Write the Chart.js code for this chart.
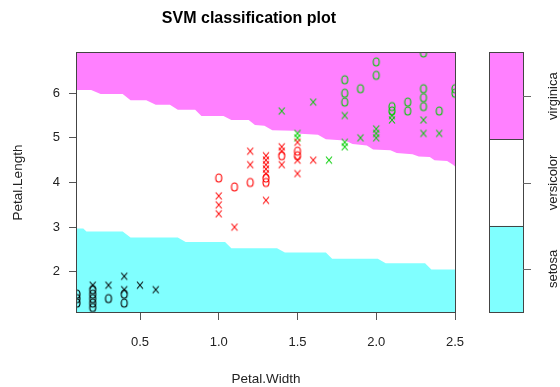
<!DOCTYPE html>
<html>
<head>
<meta charset="utf-8">
<script src="https://cdn.jsdelivr.net/npm/chart.js@4"></script>
<style>
html,body{margin:0;padding:0;background:#fff;}
#c{display:block;}
</style>
</head>
<body>
<canvas id="c" width="560" height="387"></canvas>
<script>
// ---- data ----
const classNames = ['setosa', 'versicolor', 'virginica'];
const classColors = ['#80FFFF', '#FFFFFF', '#FF80FF'];
const pointColors = ['#000000', '#FF0000', '#00CD00'];
const xTicks = [0.5, 1.0, 1.5, 2.0, 2.5];
const yTicks = [2, 3, 4, 5, 6];

const setosaWidth  = [0.1,0.1,0.1, 0.2,0.2,0.2,0.2,0.2,0.2, 0.3,0.3, 0.4,0.4,0.4,0.4, 0.5, 0.6];
const setosaLength = [1.5,1.4,1.3, 1.7,1.6,1.5,1.4,1.3,1.2, 1.7,1.4, 1.9,1.6,1.5,1.3, 1.7, 1.6];
const setosaSV     = [0,0,0, 1,0,0,0,0,0, 1,0, 1,1,0,0, 1,1];

const versicolorWidth  = [1.0,1.0,1.0,1.0, 1.1,1.1, 1.2,1.2,1.2, 1.3,1.3,1.3,1.3,1.3,1.3,1.3,1.3, 1.4,1.4,1.4,1.4, 1.5,1.5,1.5,1.5,1.5, 1.6];
const versicolorLength = [4.1,3.7,3.5,3.3, 3.9,3.0, 4.7,4.4,4.0, 4.6,4.5,4.4,4.3,4.2,4.1,4.0,3.6, 4.8,4.7,4.6,4.4, 4.9,4.7,4.6,4.5,4.2, 4.5];
const versicolorSV     = [0,1,1,1, 0,1, 1,1,0, 1,1,1,1,1,0,0,1, 1,1,0,1, 1,0,0,1,1, 1];

const virginicaWidth  = [1.4, 1.5,1.5, 1.6, 1.7, 1.8,1.8,1.8,1.8,1.8,1.8, 1.9,1.9, 2.0,2.0,2.0,2.0,2.0, 2.1,2.1,2.1,2.1, 2.2,2.2, 2.3,2.3,2.3,2.3,2.3,2.3, 2.4,2.4, 2.5,2.5];
const virginicaLength = [5.6, 5.1,5.0, 5.8, 4.5, 6.3,6.0,5.8,5.5,4.9,4.8, 6.1,5.0, 6.7,6.4,5.2,5.1,5.0, 5.7,5.6,5.5,5.4, 5.8,5.6, 6.9,6.1,5.9,5.7,5.4,5.1, 5.6,5.1, 6.1,6.0];
const virginicaSV     = [1, 1,1, 1, 1, 0,0,0,1,1,1, 0,1, 0,0,1,1,1, 0,0,1,1, 0,0, 0,0,0,0,1,1, 0,1, 0,0];

// decision boundaries (virginica/versicolor and versicolor/setosa)
const upperX = [0.10,0.19,0.25,0.39,0.44,0.54,0.60,0.69,0.74,0.85,0.89,1.03,1.08,1.19,1.23,1.29,1.34,1.48,1.52,1.63,1.68,1.80,1.85,1.94,1.98,2.09,2.13,2.23,2.27,2.34,2.37,2.45,2.49,2.50];
const upperY = [6.07,6.07,5.98,5.98,5.84,5.84,5.74,5.74,5.63,5.63,5.49,5.49,5.40,5.40,5.29,5.27,5.17,5.16,5.09,5.07,4.97,4.94,4.86,4.83,4.74,4.72,4.66,4.63,4.58,4.57,4.50,4.48,4.39,4.36];
const lowerX = [0.10,0.14,0.16,0.39,0.44,0.74,0.79,1.04,1.08,1.37,1.42,1.68,1.72,2.01,2.06,2.31,2.35,2.50];
const lowerY = [2.97,2.97,2.90,2.90,2.77,2.77,2.67,2.67,2.53,2.53,2.43,2.43,2.29,2.29,2.19,2.19,2.05,2.05];

// ---- glyphs ----
function glyph(kind, color) {
  const c = document.createElement('canvas');
  c.width = 12; c.height = 12;
  const g = c.getContext('2d');
  g.strokeStyle = color;
  g.lineWidth = 1.1;
  g.beginPath();
  if (kind === 'o') {
    g.ellipse(6, 6, 3, 4, 0, 0, Math.PI * 2);
  } else {
    g.moveTo(3, 2.5); g.lineTo(9, 9.5);
    g.moveTo(9, 2.5); g.lineTo(3, 9.5);
  }
  g.stroke();
  return c;
}

function pts(xs, ys, sv, want) {
  const out = [];
  for (let i = 0; i < xs.length; i++) if (sv[i] === want) out.push({x: xs[i], y: ys[i]});
  return out;
}
function zipXY(xs, ys) { return xs.map((x, i) => ({x: x, y: ys[i]})); }

const classes = [
  [setosaWidth, setosaLength, setosaSV],
  [versicolorWidth, versicolorLength, versicolorSV],
  [virginicaWidth, virginicaLength, virginicaSV]
];

const datasets = [];
classes.forEach((cl, k) => {
  [[0, 'o'], [1, 'x']].forEach(([flag, kind]) => {
    datasets.push({
      label: classNames[k] + (flag ? ' SV' : ''),
      data: pts(cl[0], cl[1], cl[2], flag),
      showLine: false,
      pointStyle: glyph(kind, pointColors[k]),
      pointRadius: 4,
      pointHoverRadius: 4,
      clip: 0,
      order: 0
    });
  });
});
datasets.push({
  label: 'virginica region',
  data: zipXY(upperX, upperY),
  showLine: true, fill: 'end', backgroundColor: classColors[2],
  borderWidth: 0, borderColor: 'rgba(0,0,0,0)', pointRadius: 0, tension: 0, order: 5
});
datasets.push({
  label: 'setosa region',
  data: zipXY(lowerX, lowerY),
  showLine: true, fill: 'start', backgroundColor: classColors[0],
  borderWidth: 0, borderColor: 'rgba(0,0,0,0)', pointRadius: 0, tension: 0, order: 5
});

const FONT = '"Liberation Sans", Arial, Helvetica, sans-serif';

const decor = {
  id: 'decor',
  afterDraw(chart) {
    const ctx = chart.ctx;
    const a = chart.chartArea;
    ctx.save();
    // plot box
    ctx.strokeStyle = '#444';
    ctx.lineWidth = 1;
    ctx.strokeRect(a.left - 0.5, a.top - 0.5, a.right - a.left + 1, a.bottom - a.top + 1);
    // title
    ctx.fillStyle = '#000';
    ctx.font = 'bold 16px ' + FONT;
    ctx.textAlign = 'center';
    ctx.textBaseline = 'alphabetic';
    ctx.fillText('SVM classification plot', 249, 23);
    // key
    const kl = 489, kr = 523;
    const h = (a.bottom - a.top) / 3;
    for (let k = 0; k < 3; k++) {
      const y0 = a.bottom - (k + 1) * h;
      ctx.fillStyle = classColors[k];
      ctx.fillRect(kl, y0, kr - kl, h);
    }
    ctx.strokeStyle = '#444';
    ctx.strokeRect(kl + 0.5, a.top - 0.5, kr - kl, a.bottom - a.top + 1);
    ctx.beginPath();
    for (let k = 1; k < 3; k++) {
      const y = Math.round(a.bottom - k * h) + 0.5;
      ctx.moveTo(kl, y); ctx.lineTo(kr, y);
    }
    ctx.stroke();
    ctx.strokeStyle = '#666';
    ctx.beginPath();
    for (let k = 0; k < 3; k++) {
      const y = Math.round(a.bottom - (k + 0.5) * h) + 0.5;
      ctx.moveTo(kr, y); ctx.lineTo(kr + 8, y);
    }
    ctx.stroke();
    ctx.fillStyle = '#222';
    ctx.font = '13px ' + FONT;
    ctx.textAlign = 'center';
    ctx.textBaseline = 'alphabetic';
    for (let k = 0; k < 3; k++) {
      const y = a.bottom - (k + 0.5) * h;
      ctx.save();
      ctx.translate(557, y);
      ctx.rotate(-Math.PI / 2);
      ctx.fillText(classNames[k], 0, 0);
      ctx.restore();
    }
    ctx.restore();
  }
};

new Chart(document.getElementById('c'), {
  type: 'line',
  data: {datasets: datasets},
  options: {
    responsive: false,
    animation: false,
    devicePixelRatio: 1,
    parsing: true,
    layout: {padding: {top: 53, right: 105, bottom: 0, left: 0}},
    plugins: {legend: {display: false}, tooltip: {enabled: false}, title: {display: false}},
    scales: {
      x: {
        type: 'linear', min: 0.1, max: 2.5,
        afterBuildTicks: s => { s.ticks = xTicks.map(v => ({value: v})); },
        afterFit: s => { s.height = 75; },
        ticks: {callback: v => v.toFixed(1), color: '#222', font: {family: FONT, size: 13}, padding: 15, maxRotation: 0, autoSkip: false},
        grid: {drawOnChartArea: false, drawTicks: true, tickLength: 8, color: '#555'},
        border: {display: false},
        title: {display: true, text: 'Petal.Width', color: '#222', font: {family: FONT, size: 13.5}, padding: {top: 0, bottom: 0}}
      },
      y: {
        type: 'linear', min: 1.1, max: 6.9,
        afterBuildTicks: s => { s.ticks = yTicks.map(v => ({value: v})); },
        afterFit: s => { s.width = 77; },
        ticks: {callback: v => String(v), color: '#222', font: {family: FONT, size: 13}, padding: 9, autoSkip: false},
        grid: {drawOnChartArea: false, drawTicks: true, tickLength: 8, color: '#555'},
        border: {display: false},
        title: {display: true, text: 'Petal.Length', color: '#222', font: {family: FONT, size: 13.5}, padding: {top: 10, bottom: 0}}
      }
    }
  },
  plugins: [decor]
});
</script>
</body>
</html>
